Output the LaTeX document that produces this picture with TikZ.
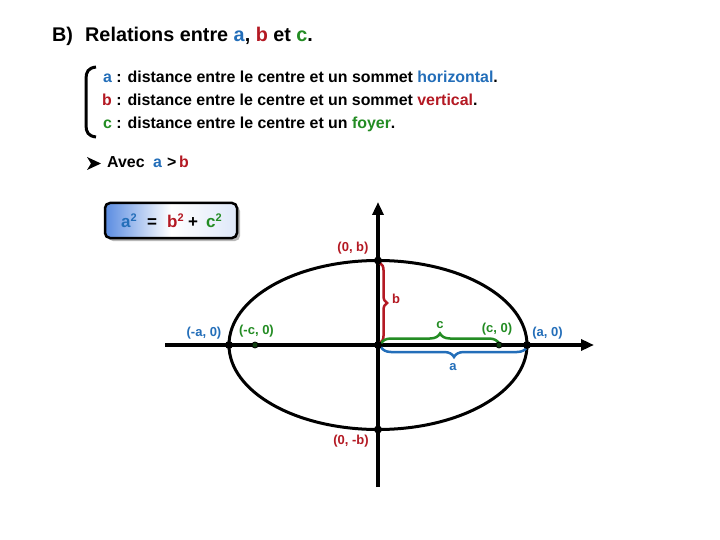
\documentclass[tikz,border=0pt]{standalone}
\usepackage{fontspec}
\setmainfont{Liberation Sans}
\usetikzlibrary{arrows.meta,decorations.pathreplacing,shadows}
\definecolor{cblue}{RGB}{35,110,185}
\definecolor{cred}{RGB}{180,25,35}
\definecolor{cgreen}{RGB}{35,140,35}
\definecolor{boxblue}{RGB}{90,140,225}
\newcommand{\sqr}{\raisebox{6.5pt}{\fontsize{11}{12}\selectfont 2}}
\begin{document}
\begin{tikzpicture}[x=1pt,y=-1pt,
  title/.style={font=\fontsize{19.8}{23}\selectfont\bfseries,inner sep=0pt,anchor=base west},
  body/.style={font=\fontsize{15.9}{18}\selectfont\bfseries,inner sep=0pt,anchor=base west},
  lbl/.style={font=\fontsize{13}{15}\selectfont\bfseries,inner sep=0pt},
  frm/.style={font=\fontsize{17}{19}\selectfont\bfseries,inner sep=0pt,anchor=base west},
  dot/.style={circle,fill=black,inner sep=0pt,minimum size=8pt},
  focus/.style={circle,fill=cgreen!45!black,draw=black,line width=0.8pt,inner sep=0pt,minimum size=6pt},
  axis/.style={line width=3.5pt,-{Triangle[length=13pt,width=11pt]}},
  bracecurve/.style={line width=2.5pt,decorate},
  formbox/.style={draw=black,line width=2.5pt,rounded corners=5pt,minimum width=132pt,minimum height=35pt,
     left color=boxblue,right color=boxblue!20,middle color=white,
     drop shadow={shadow xshift=3pt,shadow yshift=-3pt,fill=black!55}}]
\useasboundingbox (0,0) rectangle (720,540);
\fill[white] (0,0) rectangle (720,540);

% title
\node[title] (tB) at (52,42) {B)};
\node[title] (tR) at (85,42) {Relations entre \textcolor{cblue}{a}, \textcolor{cred}{b} et \textcolor{cgreen}{c}.};

% bracket
\draw[line width=3pt] (96,67) .. controls (88,68) and (86,72) .. (86,79) -- (86,125) .. controls (86,132) and (88,136) .. (96,137);

% definitions
\node[body] (l1) at (103,83) {\textcolor{cblue}{a} : distance entre le centre et un sommet \textcolor{cblue}{horizontal}.};
\node[body] (l2) at (102,106) {\textcolor{cred}{b} : distance entre le centre et un sommet \textcolor{cred}{vertical}.};
\node[body] (l3) at (103,129) {\textcolor{cgreen}{c} : distance entre le centre et un \textcolor{cgreen}{foyer}.};

% Avec a > b
\fill (87,157) -- (101,163.5) -- (87,170) -- (91,163.5) -- cycle;
\node[body] (avec) at (107,168) {Avec};
\node[body] (aa) at (153,168) {\textcolor{cblue}{a}};
\node[body] (gt) at (167,168) {>};
\node[body] (bb) at (179,168) {\textcolor{cred}{b}};

% formula box
\node[formbox] (F) at (171,220.5) {};
\node[frm] (fa) at (121,228) {\textcolor{cblue}{a\sqr}};
\node[frm] (feq) at (147,228) {=};
\node[frm] (fb) at (167,228) {\textcolor{cred}{b\sqr}};
\node[frm] (fp) at (188,228) {+};
\node[frm] (fc) at (206,228) {\textcolor{cgreen}{c\sqr}};

% axes
\coordinate (xl) at (165,345);
\coordinate (xr) at (594,345);
\coordinate (yb) at (378,487);
\coordinate (yt) at (378,202);
\draw[axis] (xl) -- (xr);
\draw[axis] (yb) -- (yt);

% ellipse
\coordinate (O) at (378,345);
\draw[line width=3pt] (O) ellipse [x radius=149pt, y radius=84.5pt];

% braces
\coordinate (b1) at (380,263);
\coordinate (b2) at (380,343);
\draw[bracecurve,cred,decoration={brace,amplitude=7pt}] (b1) -- (b2);
\coordinate (c1) at (381,343.5);
\coordinate (c2) at (499,343.5);
\draw[bracecurve,cgreen,decoration={brace,amplitude=10pt}] (c1) -- (c2);
\coordinate (a1) at (527,347);
\coordinate (a2) at (381,347);
\draw[bracecurve,cblue,decoration={brace,amplitude=10pt}] (a1) -- (a2);

% points
\node[dot] (O0) at (O) {};
\node[dot] (Vl) at (229,345) {};
\node[dot] (Vr) at (527,345) {};
\node[dot] (Vt) at (378,260.5) {};
\node[dot] (Vb) at (378,429.5) {};
\node[focus] (Fl) at (255,345) {};
\node[focus] (Fr) at (499,345) {};

% labels
\node[lbl,cred] (L0b) at (353,248) {(0, b)};
\node[lbl,cred] (L0mb) at (351,441) {(0, -b)};
\node[lbl,cblue] (Lma) at (204,333) {(-a, 0)};
\node[lbl,cblue] (La0) at (547.5,333) {(a, 0)};
\node[lbl,cgreen] (Lmc) at (256.5,331) {(-c, 0)};
\node[lbl,cgreen] (Lc0) at (497,329) {(c, 0)};
\node[lbl,cred] (Lb) at (396,299) {b};
\node[lbl,cgreen] (Lc) at (440,325) {c};
\node[lbl,cblue] (La) at (453,367) {a};
\end{tikzpicture}
\end{document}
